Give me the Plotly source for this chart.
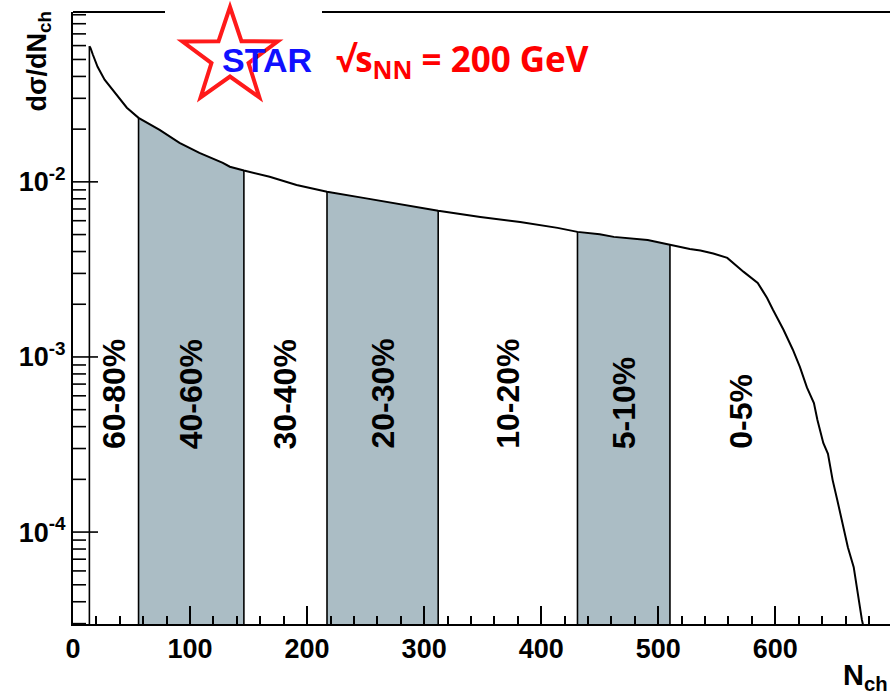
import math
import plotly.graph_objects as go

# ---------------- data ----------------
nch = [14, 15, 17, 21, 27, 34, 46, 56, 74, 91, 108, 128, 134, 146, 168, 191,
       217, 248, 277, 312, 348, 382, 414, 431, 450, 462, 491, 510, 527, 536,
       547, 559, 573, 585, 593, 598, 607, 615, 621, 627, 633, 636, 641, 645,
       649, 653, 658, 662, 667, 671, 674, 678]
dsigma = [0.0595, 0.058, 0.0532, 0.0454, 0.0383, 0.0336, 0.0265, 0.0232,
          0.0198, 0.0167, 0.01465, 0.01285, 0.0122, 0.0116, 0.0107, 0.0096,
          0.00877, 0.0081, 0.00748, 0.00683, 0.0063, 0.0059, 0.00546, 0.00518,
          0.00502, 0.00485, 0.00466, 0.00436, 0.00414, 0.00405, 0.0039,
          0.00368, 0.00306, 0.00265, 0.00217, 0.00186, 0.00143, 0.0011,
          0.000877, 0.00067, 0.000546, 0.000437, 0.000323, 0.00028, 0.000198,
          0.000152, 0.000107, 0.000082, 0.000063, 0.000041, 0.0000315, 0.000024]

# centrality class boundaries in N_ch (lower edge of each class, highest class open-ended)
boundaries = [14, 56, 146, 217, 312, 431, 510]
region_end = 630            # nominal upper end used only for placing the 0-5% label
classes = ["60-80%", "40-60%", "30-40%", "20-30%", "10-20%", "5-10%", "0-5%"]
shaded = [False, True, False, True, False, True, False]

x_ticks = [0, 100, 200, 300, 400, 500, 600]
y_ticks = [1e-4, 1e-3, 1e-2]
y_tick_text = ["10<sup>-4</sup>", "10<sup>-3</sup>", "10<sup>-2</sup>"]
x_range = [0, 698]
y_range_log = [-4.525, -1.03]

# ---------------- layout geometry ----------------
W, H = 890, 696
ML, MR, MT, MB = 73, 0, 12, 72
PW, PH = W - ML - MR, H - MT - MB


def px(x):
    return (x - ML) / PW


def py(y):
    return (H - MB - y) / PH


FONT = "Liberation Sans, Arial, Helvetica, sans-serif"
SHADE = "#abbdc5"
y_floor = 10 ** (y_range_log[0] - 1)
value_at = dict(zip(nch, dsigma))

# minor tick positions of the log axis (2..9 x each decade)
y_minor = [d * 10.0 ** e for e in range(-5, -1) for d in range(2, 10)]
y_minor = [v for v in y_minor
           if y_range_log[0] <= math.log10(v) <= y_range_log[1]]

fig = go.Figure()

# shaded centrality regions
edges = boundaries + [None]
for i, sh in enumerate(shaded):
    if not sh:
        continue
    a, b = edges[i], edges[i + 1]
    xs = [n for n in nch if a <= n <= b]
    ys = [value_at[n] for n in xs]
    fig.add_trace(go.Scatter(
        x=xs + [b, a], y=ys + [y_floor, y_floor], mode="lines",
        fill="toself", fillcolor=SHADE, line=dict(width=0),
        hoverinfo="skip", showlegend=False))

# vertical boundary lines
bx, by = [], []
for b in boundaries:
    bx += [b, b, None]
    by += [value_at[b], y_floor, None]
fig.add_trace(go.Scatter(x=bx, y=by, mode="lines",
                         line=dict(color="black", width=1.6),
                         hoverinfo="skip", showlegend=False))

# the distribution
fig.add_trace(go.Scatter(x=nch, y=dsigma, mode="lines",
                         line=dict(color="black", width=2),
                         showlegend=False))

# y-axis ticks (ROOT style, pointing into the frame) drawn on a pixel-unit
# overlay x axis so that their length is fixed in pixels
tx, ty = [], []
for v, ln in [(t, 25) for t in y_ticks] + [(t, 13) for t in y_minor]:
    tx += [0, ln, None]
    ty += [v, v, None]
fig.add_trace(go.Scatter(x=tx, y=ty, xaxis="x2", mode="lines",
                         line=dict(color="black", width=1.6),
                         hoverinfo="skip", showlegend=False))

# class labels
label_centres = [(edges[i] + (edges[i + 1] if edges[i + 1] else region_end)) / 2
                 for i in range(len(classes))]
annotations = []
for lab, xc in zip(classes, label_centres):
    annotations.append(dict(
        x=xc, xref="x", y=py(451), yref="paper", text=lab, textangle=-90,
        showarrow=False, xanchor="center", yanchor="bottom",
        font=dict(family=FONT, size=32, color="black", weight="bold")))

# axis titles
annotations.append(dict(
    x=px(38), y=py(9), xref="paper", yref="paper",
    text="d\u03c3/dN<sub>ch</sub>", textangle=-90, showarrow=False,
    xanchor="center", yanchor="top",
    font=dict(family=FONT, size=27, color="black", weight="bold")))
annotations.append(dict(
    x=1, y=py(677), xref="paper", yref="paper",
    text="N<sub>ch</sub>", showarrow=False, xanchor="right", yanchor="middle",
    font=dict(family=FONT, size=29, color="black", weight="bold")))

# STAR logo text and energy
annotations.append(dict(
    x=px(267), y=py(60), xref="paper", yref="paper", text="STAR",
    showarrow=False, xanchor="center", yanchor="middle",
    font=dict(family=FONT, size=34, color="#1010ff", weight="bold")))
annotations.append(dict(
    x=px(334), y=py(60), xref="paper", yref="paper",
    text="\u221as<sub>NN</sub> = 200 GeV",
    showarrow=False, xanchor="left", yanchor="middle",
    font=dict(family="Open Sans, DejaVu Sans, sans-serif", size=35,
              color="#ff0000", weight="bold")))

# star outline (decoration)
cx, cy, R, r = 230, 57, 50, 19.5
pts = []
for k in range(10):
    ang = math.radians(-90 + 36 * k)
    rad = R if k % 2 == 0 else r
    pts.append((px(cx + rad * math.cos(ang)), py(cy + rad * math.sin(ang))))
path = "M " + " L ".join(f"{x:.5f},{y:.5f}" for x, y in pts) + " Z"

shapes = [
    dict(type="path", path=path, xref="paper", yref="paper",
         line=dict(color="#ff1a1a", width=4), fillcolor="white", layer="above"),
    # top frame, interrupted by the logo
    dict(type="line", xref="paper", yref="paper", x0=0, x1=px(165), y0=1, y1=1,
         line=dict(color="black", width=2)),
    dict(type="line", xref="paper", yref="paper", x0=px(322), x1=1.01, y0=1, y1=1,
         line=dict(color="black", width=2)),
]

tickfont = dict(family=FONT, size=27, color="black", weight="bold")
fig.update_layout(
    width=W, height=H, margin=dict(l=ML, r=MR, t=MT, b=MB, pad=0, autoexpand=False),
    paper_bgcolor="white", plot_bgcolor="white", showlegend=False,
    annotations=annotations, shapes=shapes,
    xaxis=dict(range=x_range, tickvals=x_ticks, ticks="inside", ticklen=18,
               tickwidth=1.5, tickcolor="black", showline=True, linewidth=2,
               linecolor="black", showgrid=False, zeroline=False,
               tickfont=tickfont, automargin=False,
               minor=dict(ticks="inside", ticklen=8, dtick=20, tick0=0,
                          tickwidth=1.5, tickcolor="black", showgrid=False)),
    xaxis2=dict(range=[0, PW], overlaying="x", visible=False, fixedrange=True),
    yaxis=dict(type="log", range=y_range_log, tickvals=y_ticks,
               ticktext=y_tick_text, ticks="", showline=True, linewidth=2,
               linecolor="black", showgrid=False, zeroline=False,
               tickfont=tickfont, automargin=False),
)

fig.write_html("out.html")
